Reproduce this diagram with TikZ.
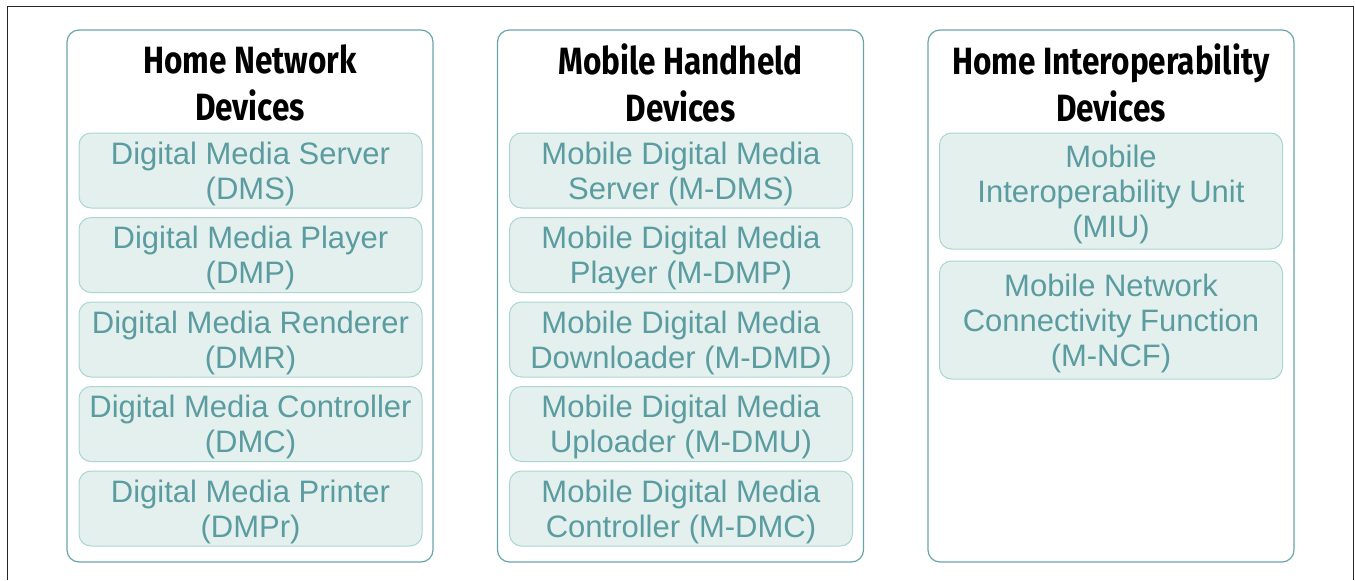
\documentclass[tikz,border=0pt]{standalone}
\usepackage{fontspec}
\setmainfont{Liberation Sans}
\newfontfamily\titlefont[FakeStretch=0.83]{Fira Sans}
\usetikzlibrary{positioning}
\definecolor{tealline}{HTML}{68A4A7}
\definecolor{tealtext}{HTML}{5A9CA0}
\definecolor{tealfill}{HTML}{E4F0EE}
\definecolor{tealedge}{HTML}{A9D6D1}

\tikzset{
	groupbox/.style={draw=tealline, line width=0.6pt, rounded corners=6pt,
		minimum width=183pt, minimum height=266pt, inner sep=0pt},
	grouptitle/.style={align=center, font=\titlefont\bfseries\fontsize{19}{23.5}\selectfont},
	devbox/.style={draw=tealedge, fill=tealfill, line width=0.5pt, rounded corners=6pt,
		text=tealtext, align=center, minimum width=171.5pt, minimum height=37.5pt,
		inner sep=0pt, text depth=0pt, font=\fontsize{15.5}{17.5}\selectfont},
}

\begin{document}
\begin{tikzpicture}[x=0.5pt, y=-0.5pt]
		\useasboundingbox (0,0) rectangle (1355,580);
		% frame, open at the bottom
		\draw [black!85, line width=0.5pt] (7,580)--(7,6)--(1353,6)--(1353,580);
		
		% the three groups
		\node [groupbox] (col1) at (250,296) {};
		\node [groupbox] (col2) at (680.5,296) {};
		\node [groupbox] (col3) at (1111,296) {};
		\node [grouptitle] (t1) at (250,83) {Home Network\\Devices};
		\node [grouptitle] (t2) at (680.5,83) {Mobile Handheld\\Devices};
		\node [grouptitle] (t3) at (1111,83) {Home Interoperability\\Devices};
		
		% home network devices
		\foreach \i/\txt in {1/{Digital Media Server\\(DMS)}, 2/{Digital Media Player\\(DMP)},
			3/{Digital Media Renderer\\(DMR)}, 4/{Digital Media Controller\\(DMC)},
			5/{Digital Media Printer\\(DMPr)}}{
			\node [devbox] (hn\i) at (250.5,{170.5+84.5*(\i-1)}) {\txt};
		}
		% mobile handheld devices
		\foreach \i/\txt in {1/{Mobile Digital Media\\Server (M-DMS)}, 2/{Mobile Digital Media\\Player (M-DMP)},
			3/{Mobile Digital Media\\Downloader (M-DMD)}, 4/{Mobile Digital Media\\Uploader (M-DMU)},
			5/{Mobile Digital Media\\Controller (M-DMC)}}{
			\node [devbox] (mh\i) at (681,{170.5+84.5*(\i-1)}) {\txt};
		}
		% home interoperability devices
		\node [devbox, minimum height=58pt] (hi1) at (1111,191) {Mobile\\Interoperability Unit\\(MIU)};
		\node [devbox, minimum height=59pt, below=5.5pt of hi1] (hi2) {Mobile Network\\Connectivity Function\\(M-NCF)};
\end{tikzpicture}
\end{document}
